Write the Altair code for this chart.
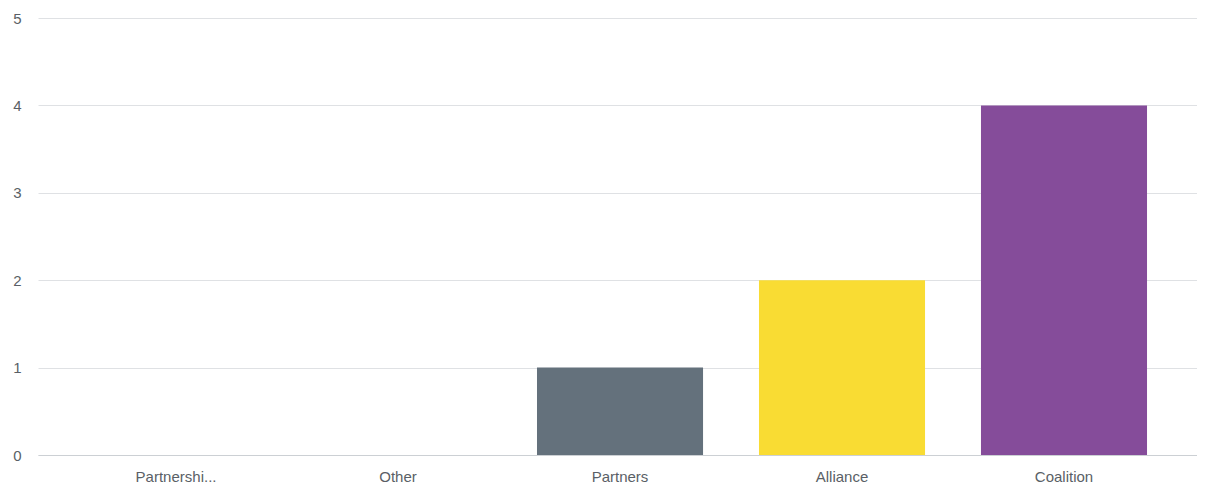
import altair as alt
import pandas as pd

categories = ["Partnershi...", "Other", "Partners", "Alliance", "Coalition"]
values = [0, 0, 1, 2, 4]
colors = ["#4e79a7", "#9c9c9c", "#64717c", "#f9dc33", "#854c9a"]

df = pd.DataFrame({"category": categories, "value": values})

chart = alt.Chart(df).mark_bar().encode(
    x=alt.X("category:N", sort=categories, title=None,
            scale=alt.Scale(paddingInner=0.252, paddingOuter=0.2365, align=0.524),
            axis=alt.Axis(labelAngle=0, labelFontSize=15, labelColor="#5a5f66",
                          labelFont="Liberation Sans", labelPadding=14,
                          ticks=False, domainColor="#ccd0d4", grid=False)),
    y=alt.Y("value:Q", title=None, scale=alt.Scale(domain=[0, 5]),
            axis=alt.Axis(values=[0, 1, 2, 3, 4, 5], labelFontSize=15, labelColor="#5a5f66",
                          labelFont="Liberation Sans", labelPadding=17, ticks=False,
                          domain=False, gridColor="#dfe1e4")),
    color=alt.Color("category:N", scale=alt.Scale(domain=categories, range=colors), legend=None),
).properties(
    width=1159, height=437,
    autosize=alt.AutoSizeParams(type="none"),
    padding={"left": 30, "top": 10, "right": 0, "bottom": 31},
).configure_view(stroke=None)

chart.save("out.html", embed_options={"renderer": "svg", "actions": False})
